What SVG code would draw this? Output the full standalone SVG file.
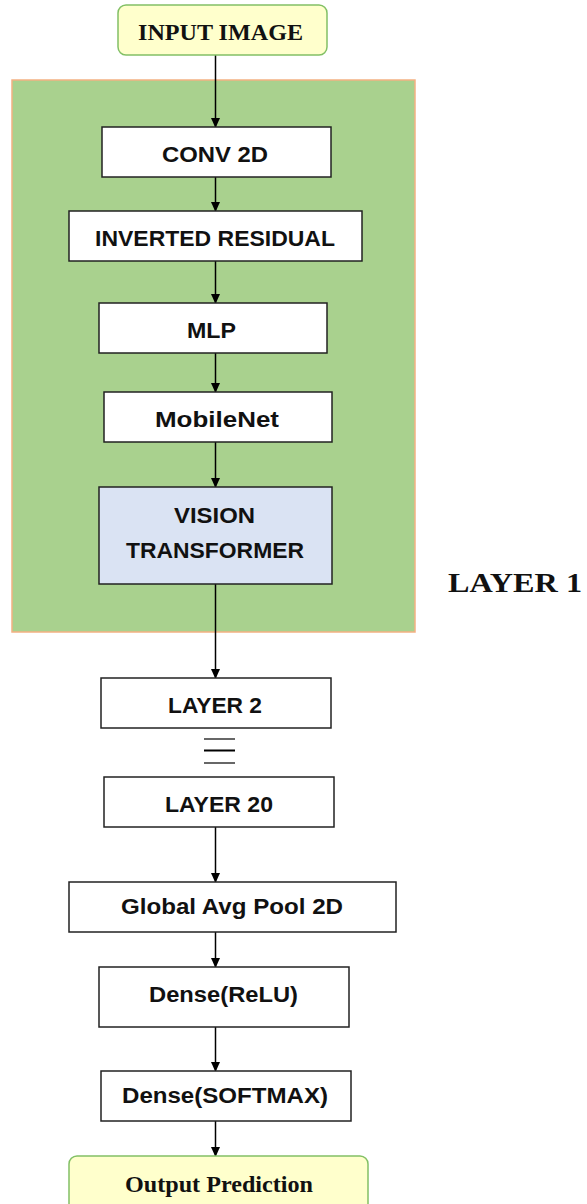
<svg xmlns="http://www.w3.org/2000/svg" width="587" height="1204" viewBox="0 0 587 1204">
<style>
.box{fill:#ffffff;stroke:#222;stroke-width:1.5}
.vit{fill:#dae3f3;stroke:#222;stroke-width:1.5}
.term{fill:#ffffcc;stroke:#82c065;stroke-width:1.5}
.lbl{font-family:"Liberation Sans",Arial,sans-serif;font-weight:bold;font-size:22px;fill:#111;text-anchor:start}
.ser{font-family:"Liberation Serif","Times New Roman",serif;font-weight:bold;fill:#111}
.con{stroke:#000;stroke-width:1.5;fill:none}
</style>
<defs>
<marker id="ah" markerWidth="10" markerHeight="10" refX="9" refY="5" orient="auto" markerUnits="userSpaceOnUse">
<path d="M0,0.5 L10,5 L0,9.5 Z" fill="#000"/>
</marker>
</defs>
<g id="layer1-panel">
<rect x="12" y="80" width="403" height="552" fill="#a9d18e" stroke="#f4b183" stroke-width="1.5"/>
<text class="ser" x="448" y="592" font-size="28" textLength="134" lengthAdjust="spacingAndGlyphs">LAYER 1</text>
</g>
<g id="connectors">
<line class="con" x1="215.5" y1="55" x2="215.5" y2="127" marker-end="url(#ah)"/>
<line class="con" x1="215.5" y1="177" x2="215.5" y2="211" marker-end="url(#ah)"/>
<line class="con" x1="215.5" y1="261" x2="215.5" y2="303" marker-end="url(#ah)"/>
<line class="con" x1="215.5" y1="353" x2="215.5" y2="392" marker-end="url(#ah)"/>
<line class="con" x1="215.5" y1="442" x2="215.5" y2="487" marker-end="url(#ah)"/>
<line class="con" x1="215.5" y1="584" x2="215.5" y2="678" marker-end="url(#ah)"/>
<line class="con" x1="215.5" y1="827" x2="215.5" y2="882" marker-end="url(#ah)"/>
<line class="con" x1="215.5" y1="932" x2="215.5" y2="967" marker-end="url(#ah)"/>
<line class="con" x1="215.5" y1="1027" x2="215.5" y2="1071" marker-end="url(#ah)"/>
<line class="con" x1="215.5" y1="1121" x2="215.5" y2="1156" marker-end="url(#ah)"/>
</g>
<g id="equiv">
<line x1="204" y1="739" x2="235" y2="739" stroke="#000" stroke-width="1.2"/>
<line x1="204" y1="750.5" x2="235" y2="750.5" stroke="#000" stroke-width="2"/>
<line x1="204" y1="763" x2="235" y2="763" stroke="#000" stroke-width="1.2"/>
</g>
<g id="input-image">
<rect class="term" x="118" y="5" width="209" height="50" rx="8"/>
<text class="ser" x="138" y="40" font-size="24" textLength="165" lengthAdjust="spacingAndGlyphs">INPUT IMAGE</text>
</g>
<g id="conv2d">
<rect class="box" x="102" y="127" width="229" height="50"/>
<text class="lbl" x="162" y="162" textLength="106" lengthAdjust="spacingAndGlyphs">CONV 2D</text>
</g>
<g id="inverted-residual">
<rect class="box" x="69" y="211" width="293" height="50"/>
<text class="lbl" x="95" y="246" textLength="240" lengthAdjust="spacingAndGlyphs">INVERTED RESIDUAL</text>
</g>
<g id="mlp">
<rect class="box" x="99" y="303" width="228" height="50"/>
<text class="lbl" x="187" y="338" textLength="49" lengthAdjust="spacingAndGlyphs">MLP</text>
</g>
<g id="mobilenet">
<rect class="box" x="104" y="392" width="228" height="50"/>
<text class="lbl" x="155" y="427" textLength="124" lengthAdjust="spacingAndGlyphs">MobileNet</text>
</g>
<g id="vision-transformer">
<rect class="vit" x="99" y="487" width="233" height="97"/>
<text class="lbl" x="174" y="523" textLength="81" lengthAdjust="spacingAndGlyphs">VISION</text>
<text class="lbl" x="126" y="558" textLength="178" lengthAdjust="spacingAndGlyphs">TRANSFORMER</text>
</g>
<g id="layer2">
<rect class="box" x="101" y="678" width="230" height="50"/>
<text class="lbl" x="168" y="713" textLength="94" lengthAdjust="spacingAndGlyphs">LAYER 2</text>
</g>
<g id="layer20">
<rect class="box" x="104" y="777" width="230" height="50"/>
<text class="lbl" x="165" y="812" textLength="108" lengthAdjust="spacingAndGlyphs">LAYER 20</text>
</g>
<g id="global-avg-pool">
<rect class="box" x="69" y="882" width="327" height="50"/>
<text class="lbl" x="121" y="914" textLength="222" lengthAdjust="spacingAndGlyphs">Global Avg Pool 2D</text>
</g>
<g id="dense-relu">
<rect class="box" x="99" y="967" width="250" height="60"/>
<text class="lbl" x="149" y="1002" textLength="149" lengthAdjust="spacingAndGlyphs">Dense(ReLU)</text>
</g>
<g id="dense-softmax">
<rect class="box" x="101" y="1071" width="250" height="50"/>
<text class="lbl" x="122" y="1103" textLength="206" lengthAdjust="spacingAndGlyphs">Dense(SOFTMAX)</text>
</g>
<g id="output-prediction">
<rect class="term" x="69" y="1156" width="299" height="60" rx="8"/>
<text class="ser" x="125" y="1192" font-size="24" textLength="188" lengthAdjust="spacingAndGlyphs">Output Prediction</text>
</g>
</svg>
